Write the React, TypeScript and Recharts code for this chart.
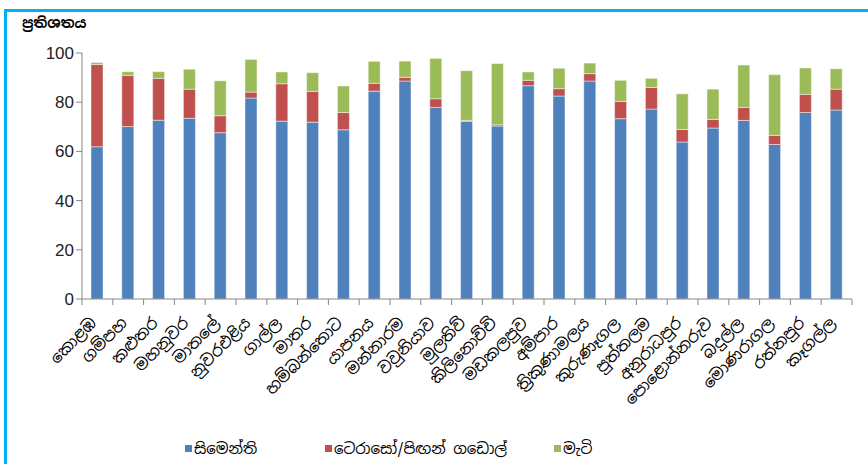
import { BarChart, Bar, XAxis, YAxis } from 'recharts'

const districts = [
  'කොළඹ', 'ගම්පහ', 'කළුතර', 'මහනුවර', 'මාතලේ', 'නුවරඑළිය', 'ගාල්ල', 'මාතර',
  'හම්බන්තොට', 'යාපනය', 'මන්නාරම', 'වවුනියාව', 'මුලතිව්', 'කිලිනොච්චි', 'මඩකලපුව',
  'අම්පාර', 'ත්‍රිකුණාමලය', 'කුරුණෑගල', 'පුත්තලම', 'අනුරාධපුර', 'පොළොන්නරුව',
  'බදුල්ල', 'මොණරාගල', 'රත්නපුර', 'කෑගල්ල',
]

const cement = [
  61.9, 70.1, 72.7, 73.5, 67.6, 81.7, 72.3, 71.9, 68.8, 84.5, 88.6, 77.9, 72.2,
  70.3, 86.7, 82.5, 88.6, 73.3, 77.2, 63.8, 69.5, 72.6, 62.8, 75.8, 76.8,
]
const terrazzo = [
  33.4, 20.8, 17.0, 11.8, 6.9, 2.4, 15.2, 12.5, 7.0, 3.2, 1.5, 3.5, 0.4,
  0.5, 2.2, 3.0, 3.0, 7.0, 8.8, 5.1, 3.5, 5.3, 3.7, 7.4, 8.5,
]
const clay = [
  0.8, 1.5, 2.7, 8.1, 14.2, 13.3, 4.8, 7.6, 10.8, 8.9, 6.6, 16.4, 20.2,
  24.9, 3.4, 8.3, 4.3, 8.6, 3.7, 14.5, 12.3, 17.2, 24.7, 10.7, 8.3,
]

const seriesNames = ['සිමෙන්ති', 'ටෙරාසෝ/පිඟන් ගඩොල්', 'මැටි']
const seriesKeys = ['cement', 'terrazzo', 'clay']
const seriesColors = ['#4F81BD', '#C0504D', '#9BBB59']
const yTicks = [0, 20, 40, 60, 80, 100]

const data = districts.map((name, i) => ({
  name,
  cement: cement[i],
  terrazzo: terrazzo[i],
  clay: clay[i],
}))

const FONT = "'Noto Sans Sinhala', 'Iskoola Pota', 'Noto Sans', 'DejaVu Sans', sans-serif"
const AXIS = '#868686'
const BAND = 770 / districts.length

function DistrictTick(props: any) {
  const { x, y, payload, index } = props
  const last = index === districts.length - 1
  const ax = x
  const ay = y + 25
  return (
    <g>
      <line x1={x - BAND / 2} x2={x - BAND / 2} y1={y} y2={y + 6} stroke={AXIS} />
      {last && <line x1={x + BAND / 2} x2={x + BAND / 2} y1={y} y2={y + 6} stroke={AXIS} />}
      <text
        x={ax}
        y={ay}
        textAnchor="end"
        transform={`rotate(-45 ${ax} ${ay})`}
        fontSize={16}
        fontFamily={FONT}
        fill="#000"
      >
        {payload.value}
      </text>
    </g>
  )
}

export default function App() {
  return (
    <div style={{ position: 'absolute', left: 0, top: 0, width: 868, height: 464, background: '#fff' }}>
      <div
        style={{
          position: 'absolute',
          left: 4,
          top: 9,
          width: 864,
          height: 455,
          borderTop: '3px solid #00B0F0',
          borderLeft: '3px solid #00B0F0',
        }}
      />
      <div
        style={{
          position: 'absolute',
          left: 22,
          top: 14,
          fontFamily: FONT,
          fontWeight: 'bold',
          fontSize: 14,
          color: '#000',
        }}
      >
        ප්‍රතිශතය
      </div>
      <div style={{ position: 'absolute', left: 0, top: 0 }}>
        <BarChart
          width={868}
          height={464}
          data={data}
          margin={{ top: 53, right: 16, bottom: 45, left: 0 }}
          barSize={12}
        >
          <YAxis
            width={82}
            domain={[0, 100]}
            ticks={yTicks}
            interval={0}
            stroke={AXIS}
            tickSize={6}
            tick={{ fill: '#222', fontSize: 17, fontFamily: "'Liberation Sans', Arial, sans-serif" }}
          />
          <XAxis
            dataKey="name"
            height={120}
            interval={0}
            stroke={AXIS}
            tickLine={false}
            tickSize={0}
            tickMargin={0}
            tick={<DistrictTick />}
          />
          {seriesKeys.map((k, i) => (
            <Bar
              key={k}
              dataKey={k}
              name={seriesNames[i]}
              stackId="a"
              fill={seriesColors[i]}
              stroke="#ffffff"
              strokeOpacity={0.45}
              strokeWidth={1}
              isAnimationActive={false}
            />
          ))}
        </BarChart>
      </div>
      {seriesNames.map((n, i) => (
        <div
          key={n}
          style={{
            position: 'absolute',
            left: [185, 325, 554][i],
            top: 439,
            display: 'flex',
            alignItems: 'center',
            fontFamily: FONT,
            fontSize: 15,
            color: '#000',
          }}
        >
          <span style={{ width: 7, height: 7, background: seriesColors[i], marginRight: 2 }} />
          {n}
        </div>
      ))}
    </div>
  )
}
